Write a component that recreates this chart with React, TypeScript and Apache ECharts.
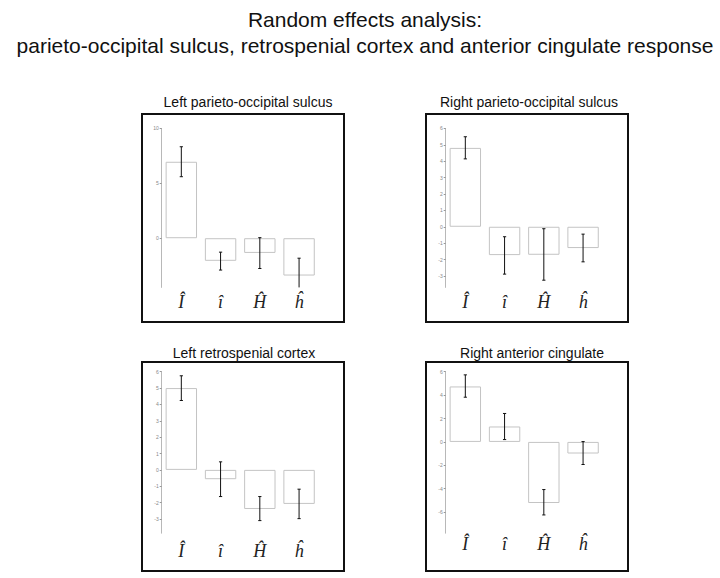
import React, { useEffect, useRef } from "react";
import * as echarts from "echarts";

const categories = ["Î", "î", "Ĥ", "ĥ"];

const panelTitles = [
  "Left parieto-occipital sulcus",
  "Right parieto-occipital sulcus",
  "Left retrospenial cortex",
  "Right anterior cingulate",
];

// bar heights (means)
const meanLPOS = [6.96, -2.06, -1.34, -3.4];
const meanRPOS = [4.81, -1.73, -1.71, -1.3];
const meanLRSC = [5.0, -0.57, -2.39, -2.08];
const meanRAC = [4.74, 1.32, -5.22, -0.99];

// error bar lower / upper ends
const lowLPOS = [5.6, -2.9, -2.76, -4.98];
const highLPOS = [8.33, -1.27, 0.05, -1.82];
const lowRPOS = [4.14, -2.89, -3.26, -2.14];
const highRPOS = [5.49, -0.61, -0.12, -0.45];
const lowLRSC = [4.24, -1.63, -3.1, -2.98];
const highLRSC = [5.75, 0.49, -1.63, -1.18];
const lowRAC = [3.82, 0.2, -6.24, -1.93];
const highRAC = [5.73, 2.43, -4.07, 0.03];

// y tick labels
const ticksLPOS = [0, 5, 10];
const ticksRPOS = [-3, -2, -1, 0, 1, 2, 3, 4, 5, 6];
const ticksLRSC = [-3, -2, -1, 0, 1, 2, 3, 4, 5, 6];
const ticksRAC = [-6, -4, -2, 0, 2, 4, 6];

const yMin = [-4.48, -3.7, -3.87, -7.8];
const yMax = [10, 6, 6, 6];

const means = [meanLPOS, meanRPOS, meanLRSC, meanRAC];
const lows = [lowLPOS, lowRPOS, lowLRSC, lowRAC];
const highs = [highLPOS, highRPOS, highLRSC, highRAC];
const ticks = [ticksLPOS, ticksRPOS, ticksLRSC, ticksRAC];

export default function App() {
  const ref = useRef<HTMLDivElement>(null);
  useEffect(() => {
    document.body.style.margin = "0";
    if (!ref.current) return;
    const chart = echarts.init(ref.current, null, { renderer: "svg" });

    const gridPos = [
      { left: 161.7, top: 128.4, width: 157, height: 159 },
      { left: 445.7, top: 128.4, width: 157, height: 159 },
      { left: 161.7, top: 371.7, width: 157, height: 161.5 },
      { left: 445.7, top: 371.7, width: 157, height: 161.5 },
    ];
    const labelMargins = [6, 6, 9, 2];

    const boxes = [
      { x: 142, y: 114, w: 202, h: 208 },
      { x: 426, y: 114, w: 202, h: 208 },
      { x: 142, y: 362, w: 202, h: 209 },
      { x: 426, y: 362, w: 202, h: 209 },
    ];
    const titleCenters = [
      { x: 243, y: 99 },
      { x: 524, y: 99 },
      { x: 239, y: 350 },
      { x: 527, y: 350 },
    ];

    const renderErr = (params: any, api: any) => {
      const idx = api.value(0);
      const lo = api.value(1);
      const hi = api.value(2);
      const cs = params.coordSys;
      const pLo = api.coord([idx, lo]);
      const pHi = api.coord([idx, hi]);
      const yTop = cs.y;
      const yBot = cs.y + cs.height;
      const children: any[] = [];
      const y1 = Math.min(Math.max(pHi[1], yTop), yBot);
      const y2 = Math.min(Math.max(pLo[1], yTop), yBot);
      const x = pLo[0];
      const w = 1.6;
      const st = { stroke: "#111", lineWidth: 1 };
      children.push({ type: "line", shape: { x1: x, y1, x2: x, y2 }, style: st });
      if (pHi[1] >= yTop && pHi[1] <= yBot)
        children.push({ type: "line", shape: { x1: x - w, y1: pHi[1], x2: x + w, y2: pHi[1] }, style: st });
      if (pLo[1] >= yTop && pLo[1] <= yBot)
        children.push({ type: "line", shape: { x1: x - w, y1: pLo[1], x2: x + w, y2: pLo[1] }, style: st });
      return { type: "group", children };
    };

    const option: any = {
      animation: false,
      backgroundColor: "#ffffff",
      title: [
        {
          text: "Random effects analysis:\nparieto-occipital sulcus, retrospenial cortex and anterior cingulate response",
          left: 360,
          top: 1,
          textAlign: "center",
          textStyle: {
            fontFamily: "Liberation Sans",
            fontWeight: "normal",
            fontSize: 21,
            lineHeight: 26,
            color: "#111",
          },
        },
        ...panelTitles.map((t, i) => ({
          text: t,
          left: titleCenters[i].x,
          top: titleCenters[i].y - 9,
          textAlign: "center",
          textStyle: {
            fontFamily: "Liberation Sans",
            fontWeight: "normal",
            fontSize: 14,
            color: "#111",
          },
        })),
      ],
      graphic: boxes.map((b) => ({
        type: "rect",
        shape: { x: b.x, y: b.y, width: b.w, height: b.h },
        style: { fill: "none", stroke: "#111", lineWidth: 2 },
        silent: true,
      })),
      grid: gridPos.map((g) => ({ ...g, containLabel: false })),
      xAxis: gridPos.map((_, i) => ({
        type: "category",
        gridIndex: i,
        data: categories,
        position: "bottom",
        axisLine: { show: false, onZero: false },
        axisTick: { show: false },
        splitLine: { show: false },
        axisLabel: {
          margin: labelMargins[i],
          fontFamily: "Liberation Serif",
          fontStyle: "italic",
          fontSize: 18,
          color: "#222",
        },
      })),
      yAxis: gridPos.map((_, i) => ({
        type: "value",
        gridIndex: i,
        min: yMin[i],
        max: yMax[i],
        axisLine: { show: true, lineStyle: { color: "#b8b8b8", width: 1 } },
        axisTick: {
          show: true,
          length: 2,
          customValues: ticks[i],
          lineStyle: { color: "#999" },
        },
        axisLabel: {
          customValues: ticks[i],
          fontSize: 5,
          margin: 3,
          color: "#888",
          fontFamily: "Liberation Sans",
        },
        splitLine: { show: false },
      })),
      series: [
        ...means.map((m, i) => ({
          type: "bar",
          xAxisIndex: i,
          yAxisIndex: i,
          data: m,
          barCategoryGap: "20%",
          itemStyle: { color: "#ffffff", borderColor: "#c4c4c4", borderWidth: 1 },
          silent: true,
        })),
        ...lows.map((lo, i) => ({
          type: "custom",
          xAxisIndex: i,
          yAxisIndex: i,
          renderItem: renderErr,
          encode: { x: 0, y: [1, 2] },
          data: lo.map((v, k) => [k, v, highs[i][k]]),
          z: 5,
          silent: true,
        })),
      ],
    };
    chart.setOption(option);
    return () => chart.dispose();
  }, []);
  return <div ref={ref} style={{ width: 720, height: 578 }} />;
}
